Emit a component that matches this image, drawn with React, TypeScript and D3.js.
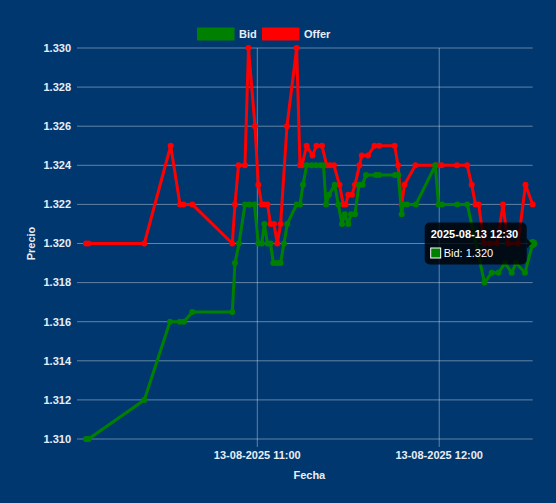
import React from "react";
import * as d3 from "d3";

const DAY = "2025-08-13";

const bidTimes = [
  "10:03:30", "10:04:20", "10:22:44", "10:31:12", "10:34:30", "10:35:48", "10:38:34",
  "10:51:45", "10:52:38", "10:53:58", "10:55:56", "10:57:22", "10:59:04", "11:00:20",
  "11:01:27", "11:02:19", "11:03:22", "11:04:21", "11:05:17", "11:06:30", "11:07:39",
  "11:08:48", "11:09:53", "11:12:59", "11:14:05", "11:15:04", "11:16:17", "11:17:52",
  "11:19:21", "11:20:50", "11:21:50", "11:22:40", "11:23:39", "11:25:32", "11:26:43",
  "11:27:56", "11:28:49", "11:30:01", "11:30:54", "11:32:13", "11:33:32", "11:34:41",
  "11:35:51", "11:39:09", "11:40:08", "11:45:25", "11:46:30", "11:47:37", "11:48:03",
  "11:49:22", "11:52:20", "11:58:42", "11:59:46", "12:00:55", "12:05:57", "12:09:15",
  "12:14:56", "12:17:19", "12:19:33", "12:21:41", "12:23:54", "12:25:19", "12:28:17",
  "12:30:50",
];
const bidValues = [
  1.31, 1.31, 1.312, 1.316, 1.316, 1.316, 1.3165,
  1.3165, 1.319, 1.32, 1.322, 1.322, 1.322, 1.32,
  1.32, 1.321, 1.32, 1.32, 1.319, 1.319, 1.319,
  1.32, 1.321, 1.322, 1.322, 1.323, 1.324, 1.324,
  1.324, 1.324, 1.324, 1.322, 1.3225, 1.323, 1.322,
  1.321, 1.3215, 1.321, 1.3215, 1.3215, 1.323, 1.323,
  1.3235, 1.3235, 1.3235, 1.3235, 1.3235, 1.3215, 1.322,
  1.322, 1.322, 1.324, 1.322, 1.322, 1.322, 1.322,
  1.318, 1.3185, 1.3185, 1.319, 1.3185, 1.319, 1.3185,
  1.32,
];

const offerTimes = [
  "10:03:30", "10:04:20", "10:22:44", "10:31:26", "10:34:30", "10:35:39", "10:38:34",
  "10:51:45", "10:52:38", "10:53:48", "10:55:56", "10:57:06", "10:59:14", "11:00:20",
  "11:01:27", "11:02:22", "11:03:22", "11:04:21", "11:05:30", "11:06:36", "11:07:42",
  "11:09:47", "11:12:59", "11:14:05", "11:14:44", "11:16:17", "11:18:12", "11:19:31",
  "11:21:20", "11:22:53", "11:23:58", "11:25:17", "11:27:06", "11:28:22", "11:29:09",
  "11:30:01", "11:31:14", "11:32:13", "11:33:42", "11:34:26", "11:36:30", "11:38:39",
  "11:40:14", "11:45:19", "11:46:24", "11:47:37", "11:48:33", "11:52:10", "11:58:56",
  "12:00:45", "12:05:51", "12:09:15", "12:10:43", "12:11:58", "12:13:01", "12:14:46",
  "12:16:45", "12:19:04", "12:21:02", "12:22:41", "12:26:00", "12:28:27", "12:30:50",
];
const offerValues = [
  1.32, 1.32, 1.32, 1.325, 1.322, 1.322, 1.322,
  1.32, 1.322, 1.324, 1.324, 1.33, 1.326, 1.323,
  1.322, 1.322, 1.322, 1.321, 1.321, 1.32, 1.321,
  1.326, 1.33, 1.324, 1.324, 1.325, 1.3245, 1.325,
  1.325, 1.324, 1.324, 1.324, 1.323, 1.322, 1.322,
  1.3225, 1.3225, 1.323, 1.324, 1.3245, 1.3245, 1.325,
  1.325, 1.325, 1.324, 1.322, 1.323, 1.324, 1.324,
  1.324, 1.324, 1.324, 1.323, 1.322, 1.322, 1.32,
  1.32, 1.32, 1.322, 1.32, 1.32, 1.323, 1.322,
];

const yTicks = [1.31, 1.312, 1.314, 1.316, 1.318, 1.32, 1.322, 1.324, 1.326, 1.328, 1.33];
const seriesNames = ["Bid", "Offer"];
const seriesColors = ["#008000", "#ff0000"];
const xTitle = "Fecha";
const yTitle = "Precio";

type P = { t: Date; v: number };

export default function App() {
  const W = 556;
  const H = 503;
  const left = 86;
  const right = 532.7;
  const top = 48;
  const bottom = 439;

  const parse = d3.timeParse("%Y-%m-%d %H:%M:%S");
  const bid: P[] = bidTimes.map((t, i) => ({ t: parse(`${DAY} ${t}`) as Date, v: bidValues[i] }));
  const offer: P[] = offerTimes.map((t, i) => ({ t: parse(`${DAY} ${t}`) as Date, v: offerValues[i] }));

  const x = d3.scaleTime().domain([bid[0].t, bid[bid.length - 1].t]).range([left, right]);
  const y = d3.scaleLinear().domain([yTicks[0], yTicks[yTicks.length - 1]]).range([bottom, top]);
  const line = d3.line<P>().x((d) => x(d.t)).y((d) => y(d.v));
  const xTicks = x.ticks(d3.timeHour.every(1) as d3.TimeInterval);
  const fmtX = d3.timeFormat("%d-%m-%Y %H:%M");
  const fmtTip = d3.timeFormat("%Y-%m-%d %H:%M");
  const fmtY = d3.format(".3f");

  const series = [bid, offer];
  const font = "'Liberation Sans', Arial, Helvetica, sans-serif";
  const txt = "#e9eef5";
  const grid = "rgba(255,255,255,0.38)";

  const hover = bid[bid.length - 1];
  const hx = x(hover.t);
  const hy = y(hover.v);
  const tipW = 102;
  const tipH = 42;
  const tipX = hx - 6 - tipW;
  const tipY = hy - 21;

  return (
    <svg
      width={W}
      height={H}
      style={{ position: "absolute", left: 0, top: 0, fontFamily: font }}
    >
      <rect x={0} y={0} width={W} height={H} fill="#00376f" />
      {/* horizontal grid */}
      {yTicks.map((t) => (
        <g key={t}>
          <line x1={left - 9} x2={right} y1={y(t)} y2={y(t)} stroke={grid} strokeWidth={1} />
          <text
            x={left - 15}
            y={y(t)}
            dy="0.35em"
            textAnchor="end"
            fontSize={11}
            fontWeight="bold"
            fill={txt}
          >
            {fmtY(t)}
          </text>
        </g>
      ))}
      {/* vertical grid */}
      {xTicks.map((t) => (
        <g key={+t}>
          <line x1={x(t)} x2={x(t)} y1={top} y2={bottom + 8} stroke={grid} strokeWidth={1} />
          <text
            x={x(t)}
            y={459}
            textAnchor="middle"
            fontSize={11}
            fontWeight="bold"
            fill={txt}
          >
            {fmtX(t)}
          </text>
        </g>
      ))}
      {/* axis titles */}
      <text x={(left + right) / 2} y={479} textAnchor="middle" fontSize={11} fontWeight="bold" fill={txt}>
        {xTitle}
      </text>
      <text
        transform={`translate(35,${(top + bottom) / 2}) rotate(-90)`}
        textAnchor="middle"
        fontSize={11}
        fontWeight="bold"
        fill={txt}
      >
        {yTitle}
      </text>
      {/* series (offer first so bid is on top) */}
      {[1, 0].map((si) => (
        <g key={si}>
          <path
            d={line(series[si]) || ""}
            fill="none"
            stroke={seriesColors[si]}
            strokeWidth={3}
            strokeLinejoin="round"
          />
          {series[si].map((d, i) => (
            <circle key={i} cx={x(d.t)} cy={y(d.v)} r={3} fill={seriesColors[si]} />
          ))}
        </g>
      ))}
      <circle cx={hx} cy={hy} r={4.5} fill={seriesColors[0]} />
      {/* legend */}
      {seriesNames.map((n, i) => {
        const bx = i === 0 ? 197 : 262;
        return (
          <g key={n}>
            <rect x={bx} y={27.5} width={37.5} height={13} fill={seriesColors[i]} />
            <text x={bx + 42} y={38} fontSize={11} fontWeight="bold" fill={txt}>
              {n}
            </text>
          </g>
        );
      })}
      {/* tooltip */}
      <g>
        <rect x={tipX} y={tipY} width={tipW} height={tipH} rx={5} fill="rgba(0,0,0,0.8)" />
        <path
          d={`M${tipX + tipW},${hy - 5} L${tipX + tipW + 5},${hy} L${tipX + tipW},${hy + 5} Z`}
          fill="rgba(0,0,0,0.8)"
        />
        <text x={tipX + 6} y={tipY + 15} fontSize={11} fontWeight="bold" fill="#fff">
          {fmtTip(hover.t)}
        </text>
        <rect x={tipX + 5.5} y={tipY + 25} width={11} height={11} fill="#fff" />
        <rect x={tipX + 6.5} y={tipY + 26} width={9} height={9} fill={seriesColors[0]} />
        <text x={tipX + 19} y={tipY + 34.5} fontSize={11} fill="#fff">
          {`${seriesNames[0]}: ${fmtY(hover.v)}`}
        </text>
      </g>
    </svg>
  );
}
